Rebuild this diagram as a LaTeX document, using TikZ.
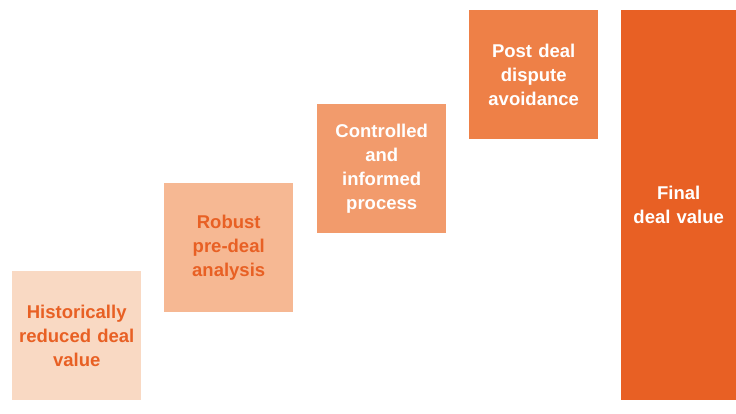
\documentclass[tikz,border=0pt]{standalone}
\usepackage{fontspec}
\setmainfont{Liberation Sans}
\definecolor{peachA}{HTML}{F9D9C3}
\definecolor{peachB}{HTML}{F6B893}
\definecolor{peachC}{HTML}{F29B6C}
\definecolor{peachD}{HTML}{EE8047}
\definecolor{dealorange}{HTML}{E86024}
\tikzset{
  stage/.style={anchor=north west, inner sep=0pt, minimum width=129pt, minimum height=129pt,
    text width=127pt, align=center, font=\fontsize{18.5}{24}\selectfont\bfseries},
}
\begin{document}
\begin{tikzpicture}[x=1pt, y=-1pt]
        \useasboundingbox (0, 0) rectangle (736, 414);
        \fill[white] (0, 0) rectangle (736, 414);

        \node[stage, fill=peachA, text=dealorange] (historic) at (12, 271) {Historically\\reduced deal\\value};
        \node[stage, fill=peachB, text=dealorange] (robust) at (164, 183) {Robust\\pre-deal\\analysis};
        \node[stage, fill=peachC, text=white] (controlled) at (317, 104) {Controlled\\and\\informed\\process};
        \node[stage, fill=peachD, text=white] (postdeal) at (469, 10) {Post deal\\dispute\\avoidance};
        \node[stage, fill=dealorange, text=white, minimum width=115pt, minimum height=390pt,
          text width=113pt] (final) at (621, 10) {Final\\deal value};
     \end{tikzpicture}
\end{document}
